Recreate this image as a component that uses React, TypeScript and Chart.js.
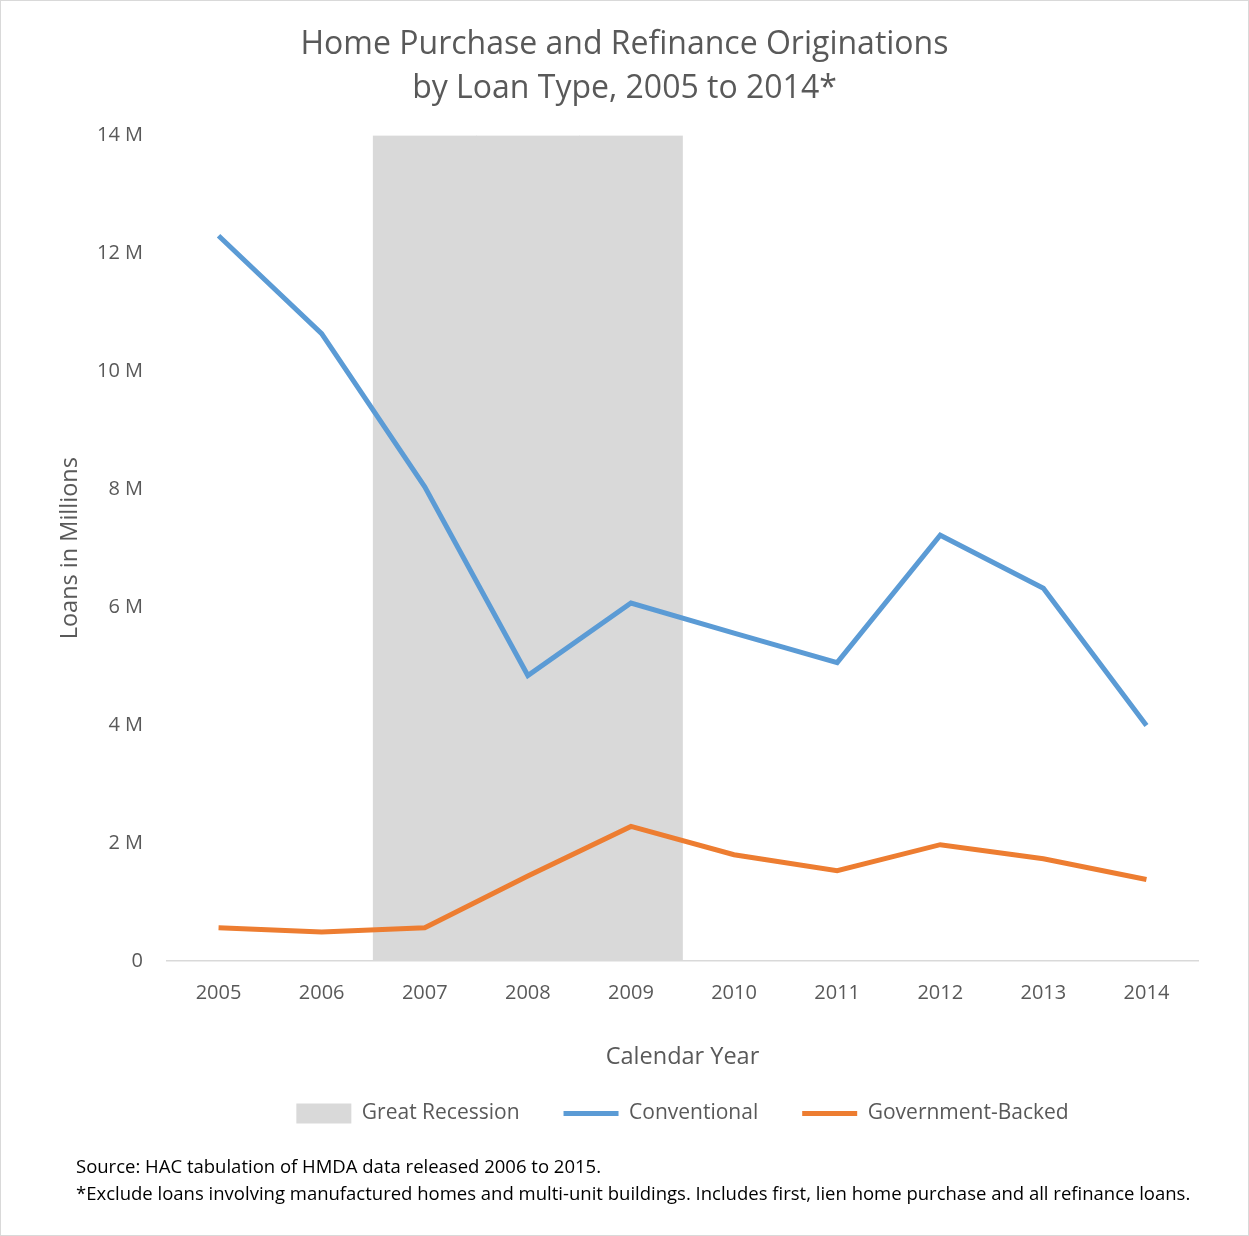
import React, { useEffect, useRef } from "react";
import { Chart, registerables } from "chart.js";

Chart.register(...registerables);

const years = ["2005", "2006", "2007", "2008", "2009", "2010", "2011", "2012", "2013", "2014"];
const conventional = [12.3, 10.64, 8.04, 4.84, 6.07, 5.56, 5.06, 7.22, 6.32, 3.99];
const governmentBacked = [0.56, 0.49, 0.56, 1.44, 2.28, 1.8, 1.53, 1.97, 1.73, 1.38];
const greatRecession = [null, null, 14, 14, 14, null, null, null, null, null];
const titleLines = ["Home Purchase and Refinance Originations", "by Loan Type, 2005 to 2014*"];
const footnotes = [
  "Source: HAC tabulation of HMDA data released 2006 to 2015.",
  "*Exclude loans involving manufactured homes and multi-unit buildings. Includes first, lien home purchase and all refinance loans.",
];

const TEXT = "#595959";
const FONT = "'Open Sans', 'Noto Sans', sans-serif";

const extrasPlugin = {
  id: "extras",
  afterDraw(chart: any) {
    const ctx = chart.ctx;
    ctx.save();
    ctx.fillStyle = "#000000";
    ctx.font = `18.5px ${FONT}`;
    ctx.textBaseline = "middle";
    ctx.textAlign = "left";
    ctx.fillText(footnotes[0], 76, 1168, 1120);
    ctx.fillText(footnotes[1], 76, 1195, 1120);
    ctx.strokeStyle = "#d9d9d9";
    ctx.lineWidth = 1;
    ctx.strokeRect(0.5, 0.5, chart.width - 1, chart.height - 1);
    ctx.restore();
  },
};

const bgPlugin = {
  id: "bg",
  beforeDraw(chart: any) {
    const ctx = chart.ctx;
    ctx.save();
    ctx.fillStyle = "#ffffff";
    ctx.fillRect(0, 0, chart.width, chart.height);
    ctx.restore();
  },
};

export default function App() {
  const ref = useRef<HTMLCanvasElement>(null);
  useEffect(() => {
    document.body.style.margin = "0";
    const chart = new Chart(ref.current!, {
      type: "bar",
      data: {
        labels: years,
        datasets: [
          {
            type: "bar",
            label: "Great Recession",
            data: greatRecession as any,
            backgroundColor: "#d9d9d9",
            barPercentage: 1,
            categoryPercentage: 1,
            order: 3,
          },
          {
            type: "line",
            label: "Conventional",
            data: conventional,
            borderColor: "#5b9bd5",
            backgroundColor: "#5b9bd5",
            borderWidth: 5,
            pointRadius: 0,
            tension: 0,
            order: 1,
          },
          {
            type: "line",
            label: "Government-Backed",
            data: governmentBacked,
            borderColor: "#ed7d31",
            backgroundColor: "#ed7d31",
            borderWidth: 5,
            pointRadius: 0,
            tension: 0,
            order: 2,
          },
        ],
      },
      options: {
        responsive: false,
        animation: false,
        layout: { padding: { left: 51, right: 51, top: 0, bottom: 102 } },
        plugins: {
          tooltip: { enabled: false },
          title: {
            display: true,
            text: titleLines,
            color: TEXT,
            font: { family: FONT, size: 32, weight: "normal", lineHeight: 1.4 },
            padding: { top: 22, bottom: 24 },
          },
          legend: {
            position: "bottom",
            fullSize: false,
            labels: {
              color: TEXT,
              font: { family: FONT, size: 21 },
              usePointStyle: true,
              pointStyleWidth: 55,
              boxHeight: 20,
              padding: 44,
              generateLabels: () => [
                { text: "Great Recession", fillStyle: "#d9d9d9", strokeStyle: "#d9d9d9", lineWidth: 0, pointStyle: "rect", fontColor: TEXT, datasetIndex: 0, hidden: false },
                { text: "Conventional", fillStyle: "#5b9bd5", strokeStyle: "#5b9bd5", lineWidth: 5, pointStyle: "line", fontColor: TEXT, datasetIndex: 1, hidden: false },
                { text: "Government-Backed", fillStyle: "#ed7d31", strokeStyle: "#ed7d31", lineWidth: 5, pointStyle: "line", fontColor: TEXT, datasetIndex: 2, hidden: false },
              ] as any,
            },
          },
        },
        scales: {
          x: {
            offset: true,
            grid: { display: false, drawTicks: false },
            border: { display: true, color: "#d9d9d9", width: 1.5 },
            ticks: { color: TEXT, font: { family: FONT, size: 20 }, padding: 20 },
            title: {
              display: true,
              text: "Calendar Year",
              color: TEXT,
              font: { family: FONT, size: 23.5 },
              padding: { top: 18, bottom: -12 },
            },
          },
          y: {
            min: 0,
            max: 14,
            grid: { display: false, drawTicks: false },
            border: { display: false },
            ticks: {
              stepSize: 2,
              color: TEXT,
              font: { family: FONT, size: 20 },
              padding: 24,
              callback: (v: any) => (Number(v) === 0 ? "0" : `${v} M`),
            },
            title: {
              display: true,
              text: "Loans in Millions",
              color: TEXT,
              font: { family: FONT, size: 23.5 },
              padding: { top: 5, bottom: 0 },
            },
            afterFit: (scale: any) => {
              scale.width = 116;
            },
          },
        },
      },
      plugins: [bgPlugin, extrasPlugin],
    });
    return () => chart.destroy();
  }, []);
  return <canvas ref={ref} width={1249} height={1236} />;
}
